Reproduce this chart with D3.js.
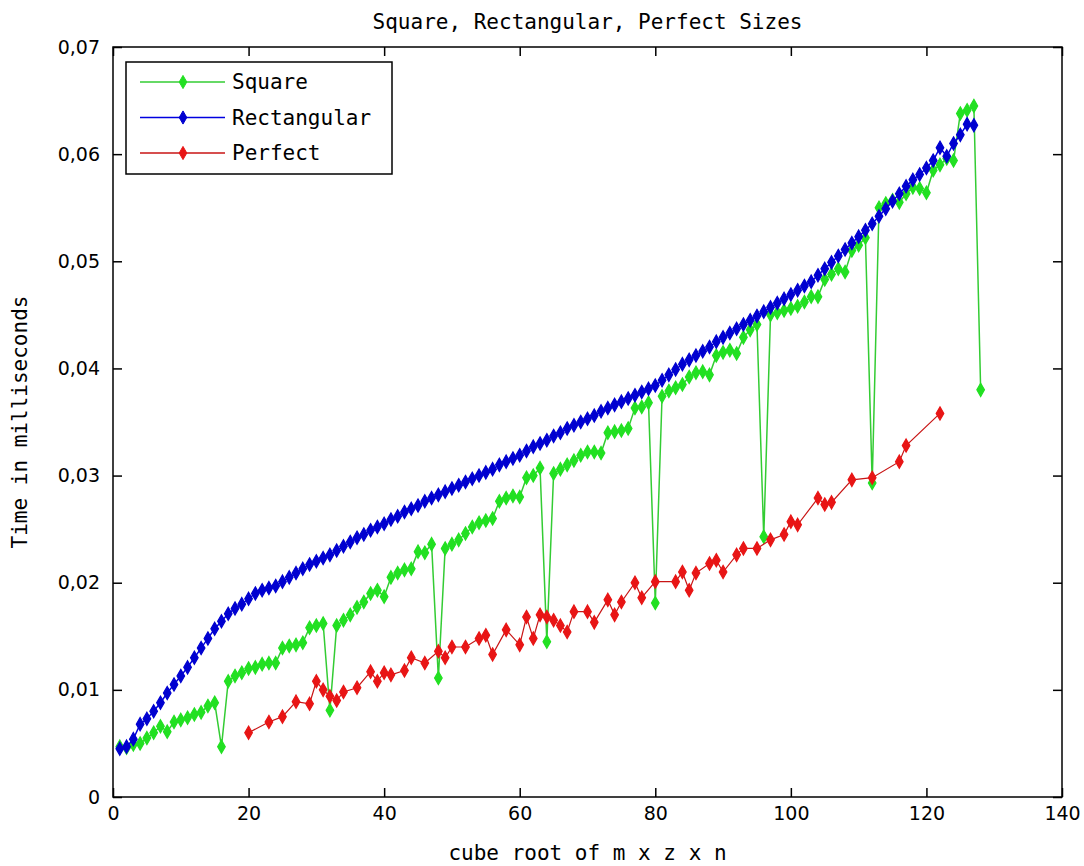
<!DOCTYPE html>
<html>
<head>
<meta charset="utf-8">
<script src="https://cdn.jsdelivr.net/npm/d3@7"></script>
<style>
  body { margin: 0; background: #fff; }
  svg { display: block; }
  .mono { font-family: "DejaVu Sans Mono", monospace; }
  .tick text { font-family: "DejaVu Sans", sans-serif; font-size: 19px; fill: #000; }
</style>
</head>
<body>
<div id="chart"></div>
<script>
// Square sizes: one value per n = 1..128
var squareTimes = [
  0.0047, 0.0046, 0.0049, 0.0050, 0.0055, 0.0060, 0.0066, 0.0061, 0.0070, 0.0072,
  0.0074, 0.0077, 0.0079, 0.0085, 0.0088, 0.0047, 0.0108, 0.0113, 0.0116, 0.0120,
  0.0121, 0.0124, 0.0125, 0.0125, 0.0139, 0.0141, 0.0142, 0.0144, 0.0158, 0.0160,
  0.0162, 0.0081, 0.0160, 0.0165, 0.0170, 0.0177, 0.0182, 0.0190, 0.0193, 0.0187,
  0.0205, 0.0209, 0.0212, 0.0213, 0.0229, 0.0228, 0.0236, 0.0111, 0.0232, 0.0236,
  0.0240, 0.0246, 0.0252, 0.0256, 0.0258, 0.0260, 0.0276, 0.0279, 0.0281, 0.0280,
  0.0298, 0.0300, 0.0307, 0.0145, 0.0302, 0.0306, 0.0310, 0.0314, 0.0319, 0.0322,
  0.0322, 0.0321, 0.0340, 0.0341, 0.0342, 0.0344, 0.0363, 0.0364, 0.0368, 0.0181,
  0.0374, 0.0379, 0.0382, 0.0385, 0.0392, 0.0396, 0.0397, 0.0394, 0.0412, 0.0415,
  0.0417, 0.0414, 0.0429, 0.0436, 0.0441, 0.0243, 0.0450, 0.0452, 0.0454, 0.0456,
  0.0458, 0.0462, 0.0467, 0.0467, 0.0483, 0.0488, 0.0493, 0.0490, 0.0510, 0.0515,
  0.0522, 0.0293, 0.0550, 0.0554, 0.0557, 0.0555, 0.0563, 0.0569, 0.0568, 0.0564,
  0.0585, 0.0590, 0.0596, 0.0594, 0.0638, 0.0641, 0.0645, 0.0380
];

// Rectangular sizes: one value per n = 1..127
var rectTimes = [
  0.0045, 0.0047, 0.0054, 0.0068, 0.0073, 0.0080, 0.0088, 0.0097, 0.0105, 0.0113,
  0.0121, 0.0130, 0.0139, 0.0148, 0.0157, 0.0164, 0.0171, 0.0176, 0.0180, 0.0185,
  0.0190, 0.0193, 0.0195, 0.0197, 0.0201, 0.0205, 0.0209, 0.0213, 0.0217, 0.0220,
  0.0223, 0.0226, 0.0230, 0.0234, 0.0238, 0.0242, 0.0245, 0.0249, 0.0252, 0.0255,
  0.0259, 0.0262, 0.0266, 0.0269, 0.0272, 0.0276, 0.0279, 0.0282, 0.0285, 0.0288,
  0.0291, 0.0294, 0.0297, 0.0300, 0.0303, 0.0306, 0.0310, 0.0313, 0.0316, 0.0319,
  0.0323, 0.0327, 0.0330, 0.0333, 0.0337, 0.0340, 0.0344, 0.0347, 0.0350, 0.0353,
  0.0356, 0.0360, 0.0363, 0.0366, 0.0369, 0.0372, 0.0375, 0.0378, 0.0381, 0.0384,
  0.0389, 0.0394, 0.0399, 0.0404, 0.0408, 0.0412, 0.0416, 0.0420, 0.0425, 0.0429,
  0.0433, 0.0437, 0.0441, 0.0445, 0.0449, 0.0453, 0.0457, 0.0461, 0.0465, 0.0469,
  0.0473, 0.0477, 0.0481, 0.0487, 0.0493, 0.0499, 0.0505, 0.0511, 0.0517, 0.0523,
  0.0529, 0.0535, 0.0542, 0.0549, 0.0556, 0.0563, 0.0570, 0.0576, 0.0581, 0.0587,
  0.0594, 0.0606, 0.0598, 0.0610, 0.0618, 0.0628, 0.0627
];

// Perfect sizes: only some n
var perfectSizes = [
  20, 23, 25, 27, 29, 30, 31, 32, 33, 34, 36, 38, 39, 40, 41, 43, 44, 46, 48, 49,
  50, 52, 54, 55, 56, 58, 60, 61, 62, 63, 64, 65, 66, 67, 68, 70, 71, 73, 74, 75,
  77, 78, 80, 83, 84, 85, 86, 88, 89, 90, 92, 93, 95, 97, 99, 100, 101, 104, 105, 106,
  109, 112, 116, 117, 122
];
var perfectTimes = [
  0.0060, 0.0070, 0.0075, 0.0089, 0.0087, 0.0108, 0.0100, 0.0094, 0.0090, 0.0098,
  0.0102, 0.0117, 0.0108, 0.0116, 0.0114, 0.0118, 0.0130, 0.0125, 0.0136, 0.0130,
  0.0140, 0.0140, 0.0148, 0.0151, 0.0133, 0.0156, 0.0142, 0.0168, 0.0148, 0.0170,
  0.0168, 0.0165, 0.0160, 0.0154, 0.0173, 0.0173, 0.0163, 0.0184, 0.0170, 0.0182,
  0.0200, 0.0186, 0.0201, 0.0201, 0.0210, 0.0193, 0.0209, 0.0218, 0.0221, 0.0210,
  0.0226, 0.0232, 0.0232, 0.0240, 0.0245, 0.0257, 0.0254, 0.0279, 0.0273, 0.0275,
  0.0296, 0.0298, 0.0313, 0.0328, 0.0358
];

var xTicks = [0, 20, 40, 60, 80, 100, 120, 140];
var yTicks = [0, 0.01, 0.02, 0.03, 0.04, 0.05, 0.06, 0.07];
var yTickLabels = ["0", "0,01", "0,02", "0,03", "0,04", "0,05", "0,06", "0,07"];

var series = [
  { name: "Square", color: "#22e022", stroke: "#33cc33", width: 1.5,
    points: squareTimes.map(function (v, i) { return [i + 1, v]; }) },
  { name: "Rectangular", color: "#0000d0", stroke: "#0000e0", width: 1.5,
    points: rectTimes.map(function (v, i) { return [i + 1, v]; }) },
  { name: "Perfect", color: "#e81515", stroke: "#c81515", width: 1.2,
    points: perfectTimes.map(function (v, i) { return [perfectSizes[i], v]; }) }
];

var W = 1084, H = 866;
var margin = { top: 47, right: 22, bottom: 69, left: 113 };
var width = W - margin.left - margin.right;
var height = H - margin.top - margin.bottom;

var svg = d3.select("#chart").append("svg")
    .attr("width", W)
    .attr("height", H);

var g = svg.append("g")
    .attr("transform", "translate(" + margin.left + "," + margin.top + ")");

var x = d3.scaleLinear().domain([0, 140]).range([0, width]);
var y = d3.scaleLinear().domain([0, 0.07]).range([height, 0]);

// axes, ticks pointing inward like matlab
g.append("g")
    .attr("transform", "translate(0," + height + ")")
    .call(d3.axisBottom(x).tickValues(xTicks).tickSizeInner(-9).tickSizeOuter(0).tickPadding(10));
g.append("g")
    .call(d3.axisTop(x).tickValues(xTicks).tickSizeInner(-9).tickSizeOuter(0).tickFormat(""));
g.append("g")
    .call(d3.axisLeft(y).tickValues(yTicks).tickSizeInner(-9).tickSizeOuter(0).tickPadding(13)
        .tickFormat(function (d, i) { return yTickLabels[i]; }));
g.append("g")
    .attr("transform", "translate(" + width + ",0)")
    .call(d3.axisRight(y).tickValues(yTicks).tickSizeInner(-9).tickSizeOuter(0).tickFormat(""));

g.selectAll(".domain").remove();
g.selectAll(".tick line").attr("stroke", "#000").attr("stroke-width", 1.5);

g.append("rect")
    .attr("width", width)
    .attr("height", height)
    .attr("fill", "none")
    .attr("stroke", "#000")
    .attr("stroke-width", 1.5);

var line = d3.line()
    .x(function (d) { return x(d[0]); })
    .y(function (d) { return y(d[1]); });

var marker = d3.symbol().type(d3.symbolDiamond).size(50);

series.forEach(function (s) {
    g.append("path")
        .datum(s.points)
        .attr("fill", "none")
        .attr("stroke", s.stroke)
        .attr("stroke-width", s.width)
        .attr("d", line);
    g.selectAll(null)
        .data(s.points)
        .enter().append("path")
        .attr("d", marker)
        .attr("transform", function (d) { return "translate(" + x(d[0]) + "," + y(d[1]) + ")"; })
        .attr("fill", s.color)
        .attr("stroke", s.color)
        .attr("stroke-width", 1.2);
});

// title and labels
svg.append("text")
    .attr("class", "mono")
    .attr("x", margin.left + width / 2)
    .attr("y", 29)
    .attr("text-anchor", "middle")
    .attr("font-size", 21)
    .text("Square, Rectangular, Perfect Sizes");

svg.append("text")
    .attr("class", "mono")
    .attr("x", margin.left + width / 2)
    .attr("y", 860)
    .attr("text-anchor", "middle")
    .attr("font-size", 21)
    .text("cube root of m x z x n");

svg.append("text")
    .attr("class", "mono")
    .attr("transform", "translate(27," + (margin.top + height / 2) + ") rotate(-90)")
    .attr("text-anchor", "middle")
    .attr("font-size", 21)
    .text("Time in milliseconds");

// legend
var legend = svg.append("g").attr("transform", "translate(126,62)");
legend.append("rect")
    .attr("width", 266)
    .attr("height", 112)
    .attr("fill", "#fff")
    .attr("stroke", "#000")
    .attr("stroke-width", 1.5);

series.forEach(function (s, i) {
    var ly = 20 + i * 35.5;
    legend.append("line")
        .attr("x1", 14).attr("x2", 99)
        .attr("y1", ly).attr("y2", ly)
        .attr("stroke", s.stroke)
        .attr("stroke-width", 1.5);
    legend.append("path")
        .attr("d", marker)
        .attr("transform", "translate(57," + ly + ")")
        .attr("fill", s.color)
        .attr("stroke", s.color);
    legend.append("text")
        .attr("class", "mono")
        .attr("x", 106)
        .attr("y", ly + 7)
        .attr("font-size", 21)
        .text(s.name);
});
</script>
</body>
</html>
